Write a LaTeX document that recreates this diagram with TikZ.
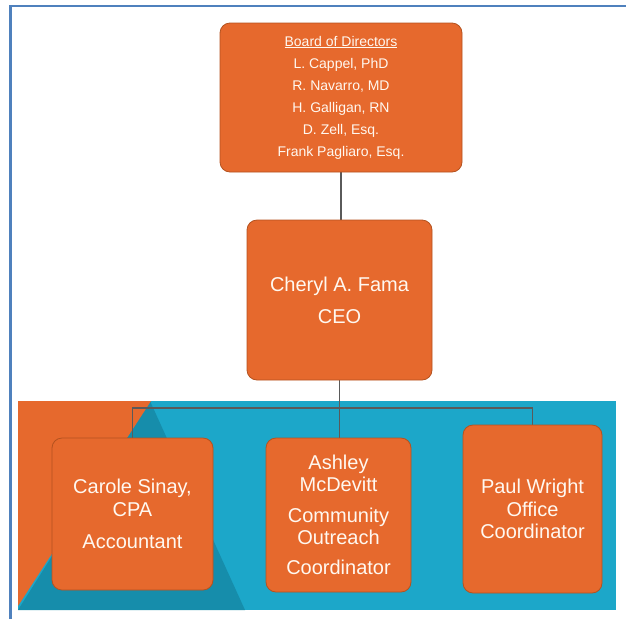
\documentclass[tikz,border=0pt]{standalone}
\usepackage{fontspec}
\setmainfont{Liberation Sans}
\usetikzlibrary{backgrounds}
\pgfdeclarelayer{band}
\pgfdeclarelayer{links}
\pgfsetlayers{band,links,main}
\definecolor{boxorange}{HTML}{E6692D}
\definecolor{boxedge}{HTML}{B4521F}
\definecolor{bandblue}{HTML}{1CA7C9}
\definecolor{banddark}{HTML}{168DAB}
\definecolor{framblue}{HTML}{4F81BD}
\definecolor{linkgray}{HTML}{5A5A5A}
\definecolor{txt}{HTML}{FFF8F0}
\tikzset{
  orgbox/.style={draw=boxedge, line width=0.8pt, fill=boxorange, rounded corners=10pt,
    text=txt, align=center, inner sep=0pt},
  link/.style={draw=linkgray, line width=1.1pt},
  frameline/.style={draw=framblue, line width=2.4pt}
}
\begin{document}
\begin{tikzpicture}[x=1pt,y=-1pt]
\useasboundingbox (0,0) rectangle (626,619);
\begin{pgfonlayer}{band}
% frame
\draw[frameline] (10.3,619) -- (10.3,6) -- (626,6);
% band
\fill[bandblue] (18,401) rectangle (616,610);
\fill[banddark] (150,401) -- (18,610) -- (245,610) -- cycle;
\fill[boxorange] (18,401) -- (151,401) -- (18,606) -- cycle;
\end{pgfonlayer}
% nodes
\node[orgbox, minimum width=242pt, minimum height=149pt,
  font=\fontsize{14}{22}\selectfont] (board) at (341,97.5)
  {\underline{Board of Directors}\\L. Cappel, PhD\\R. Navarro, MD\\H. Galligan, RN\\D. Zell, Esq.\\Frank Pagliaro, Esq.};
\node[orgbox, minimum width=185pt, minimum height=160pt,
  font=\fontsize{20}{32}\selectfont] (ceo) at (339.5,300)
  {Cheryl A. Fama\\CEO};
\node[orgbox, minimum width=161pt, minimum height=152pt,
  font=\fontsize{20}{23}\selectfont] (carole) at (132.5,514)
  {Carole Sinay,\\CPA\\[9pt]Accountant};
\node[orgbox, minimum width=145pt, minimum height=154pt,
  font=\fontsize{20}{21.5}\selectfont] (ashley) at (338.5,515)
  {Ashley\\McDevitt\\[10pt]Community\\Outreach\\[9pt]Coordinator};
\node[orgbox, minimum width=139pt, minimum height=168pt,
  font=\fontsize{20}{22.5}\selectfont] (paul) at (532.5,509)
  {Paul Wright\\Office\\Coordinator};
% connectors
\coordinate (bar) at (341,408);
\begin{pgfonlayer}{links}
\draw[link] (board.south) -- (ceo.north -| board.south);
\draw[link] (ceo.south) -- (ashley.north -| ceo.south);
\draw[link] (carole.north) |- (bar) -| (paul.north);
\end{pgfonlayer}
\end{tikzpicture}
\end{document}
